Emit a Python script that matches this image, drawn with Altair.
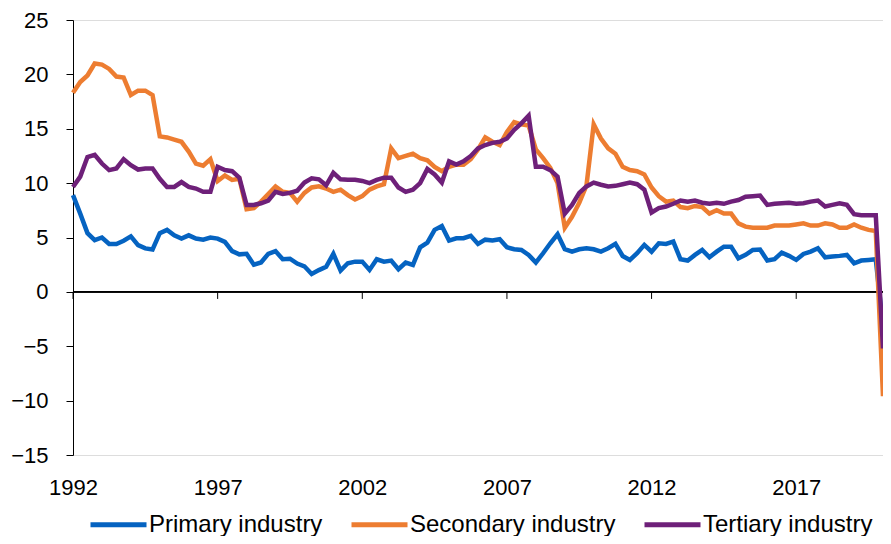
import altair as alt
import pandas as pd

# Quarterly periods 1992Q1 .. 2020Q1
years = list(range(1992, 2021))
periods = [y + q / 4 for y in years for q in range(4)][:113]

primary = [8.9, 7.2, 5.4, 4.75, 5.0, 4.4, 4.4, 4.7, 5.1, 4.3, 4.0, 3.9, 5.4, 5.7, 5.2, 4.9,
           5.2, 4.9, 4.8, 5.0, 4.9, 4.6, 3.75, 3.45, 3.5, 2.5, 2.7, 3.5, 3.75, 3.0, 3.05, 2.6,
           2.35, 1.65, 2.0, 2.3, 3.5, 1.96, 2.63, 2.78, 2.78, 2.02, 3.0, 2.78, 2.88, 2.08, 2.7, 2.48,
           4.1, 4.53, 5.7, 6.06, 4.72, 4.93, 4.93, 5.15, 4.41, 4.8, 4.72, 4.84, 4.1, 3.92, 3.86, 3.4,
           2.7, 3.55, 4.47, 5.3, 3.92, 3.7, 3.92, 4.01, 3.92, 3.7, 4.01, 4.41, 3.3, 2.94, 3.55, 4.32,
           3.7, 4.47, 4.41, 4.62, 3.0, 2.88, 3.4, 3.86, 3.18, 3.7, 4.16, 4.16, 3.09, 3.4, 3.86, 3.9,
           2.88, 3.0, 3.61, 3.31, 2.94, 3.49, 3.7, 4.01, 3.18, 3.25, 3.31, 3.4, 2.63, 2.88, 2.94, 3.0,
           -3.2]

secondary = [18.3, 19.3, 19.9, 21.0, 20.9, 20.5, 19.8, 19.7, 18.1, 18.5, 18.5, 18.1, 14.3, 14.2, 14.0, 13.8,
             12.9, 11.8, 11.6, 12.2, 10.2, 10.7, 10.3, 10.4, 7.6, 7.7, 8.3, 9.0, 9.7, 9.2, 9.1, 8.3,
             9.1, 9.6, 9.7, 9.5, 9.2, 9.4, 8.9, 8.5, 8.8, 9.4, 9.7, 9.9, 13.2, 12.3, 12.5, 12.7,
             12.3, 12.1, 11.5, 11.1, 11.5, 11.7, 11.7, 12.2, 13.1, 14.2, 13.8, 13.5, 14.7, 15.6, 15.4, 15.3,
             13.1, 12.3, 11.4, 10.0, 5.9, 6.9, 8.2, 9.8, 15.4, 14.1, 13.2, 12.7, 11.5, 11.2, 11.1, 10.8,
             9.6, 8.8, 8.3, 8.4, 7.8, 7.7, 7.9, 7.8, 7.2, 7.5, 7.2, 7.2, 6.3, 6.0, 5.9, 5.9,
             5.9, 6.1, 6.1, 6.1, 6.2, 6.3, 6.1, 6.1, 6.3, 6.2, 5.9, 5.9, 6.2, 5.9, 5.7, 5.6,
             -9.6]

tertiary = [9.65, 10.6, 12.4, 12.6, 11.8, 11.2, 11.35, 12.2, 11.65, 11.25, 11.35, 11.35, 10.4, 9.65, 9.65, 10.1,
            9.65, 9.5, 9.2, 9.2, 11.5, 11.2, 11.1, 10.5, 8.0, 8.0, 8.15, 8.4, 9.2, 9.0, 9.1, 9.3,
            10.05, 10.45, 10.35, 9.8, 10.95, 10.35, 10.3, 10.3, 10.2, 10.0, 10.3, 10.5, 10.5, 9.6, 9.2, 9.4,
            10.0, 11.3, 10.8, 10.05, 12.0, 11.7, 12.0, 12.5, 13.2, 13.5, 13.7, 13.8, 14.1, 14.9, 15.5, 16.2,
            11.5, 11.5, 11.2, 10.6, 7.2, 8.0, 9.1, 9.7, 10.05, 9.85, 9.7, 9.75, 9.9, 10.05, 9.9, 9.4,
            7.3, 7.7, 7.85, 8.1, 8.4, 8.3, 8.4, 8.2, 8.1, 8.2, 8.1, 8.3, 8.45, 8.75, 8.8, 8.85,
            8.0, 8.1, 8.15, 8.2, 8.1, 8.15, 8.3, 8.4, 7.85, 8.0, 8.15, 8.0, 7.15, 7.05, 7.05, 7.05,
            -5.2]

series_names = ["Primary industry", "Secondary industry", "Tertiary industry"]
series_colors = ["#0563C1", "#ED7D31", "#6E2079"]
x_tick_years = [1992, 1997, 2002, 2007, 2012, 2017]
y_ticks = [-15, -10, -5, 0, 5, 10, 15, 20, 25]

rows = []
for name, vals in zip(series_names, [primary, secondary, tertiary]):
    for p, v in zip(periods, vals):
        rows.append({"period": p, "value": v, "series": name})
df = pd.DataFrame(rows)
ticks_df = pd.DataFrame({"year": x_tick_years})

FONT = "Liberation Sans"

x_scale = alt.Scale(domain=[1992, 2020], nice=False, zero=False)
y_scale = alt.Scale(domain=[-15, 25], nice=False)

zero_line = alt.Chart(ticks_df).mark_rule(color="black", strokeWidth=1).encode(
    y=alt.datum(0, scale=y_scale),
    x=alt.datum(1992, scale=x_scale),
    x2=alt.datum(2020),
)

zero_ticks = alt.Chart(ticks_df).mark_rule(color="black", strokeWidth=1).encode(
    x=alt.X("year:Q", scale=x_scale),
    y=alt.datum(0, scale=y_scale),
    y2=alt.datum(-0.65),
)

lines = alt.Chart(df).mark_line(strokeWidth=4.5, strokeJoin="miter", strokeCap="butt").encode(
    x=alt.X("period:Q", scale=x_scale,
            axis=alt.Axis(values=x_tick_years, format="d", domain=False, ticks=False, grid=False,
                          labelFontSize=22, labelFont=FONT, labelColor="black", labelPadding=22,
                          labelFlush=False, title=None)),
    y=alt.Y("value:Q", scale=y_scale,
            axis=alt.Axis(values=y_ticks, grid=False, domainColor="black", tickColor="black",
                          tickSize=7, labelFontSize=22, labelFont=FONT, labelColor="black",
                          labelPadding=18, title=None)),
    color=alt.Color("series:N", scale=alt.Scale(domain=series_names, range=series_colors),
                    legend=alt.Legend(title=None, orient="none", direction="horizontal",
                                      legendX=15, legendY=474, columns=3,
                                      symbolType="stroke", symbolSize=3136, symbolStrokeWidth=5,
                                      labelFontSize=24, labelFont=FONT, labelColor="black",
                                      labelLimit=400, labelOffset=0, columnPadding=18, padding=0)),
    detail="series:N",
)

chart = alt.layer(zero_line, zero_ticks, lines).properties(
    width=810, height=435,
    autosize=alt.AutoSizeParams(type="none"),
    padding={"left": 65, "top": 12, "right": 0, "bottom": 81},
).configure_view(stroke=None).configure(background="white")

chart.save("out.html", embed_options={"renderer": "svg", "actions": False})
